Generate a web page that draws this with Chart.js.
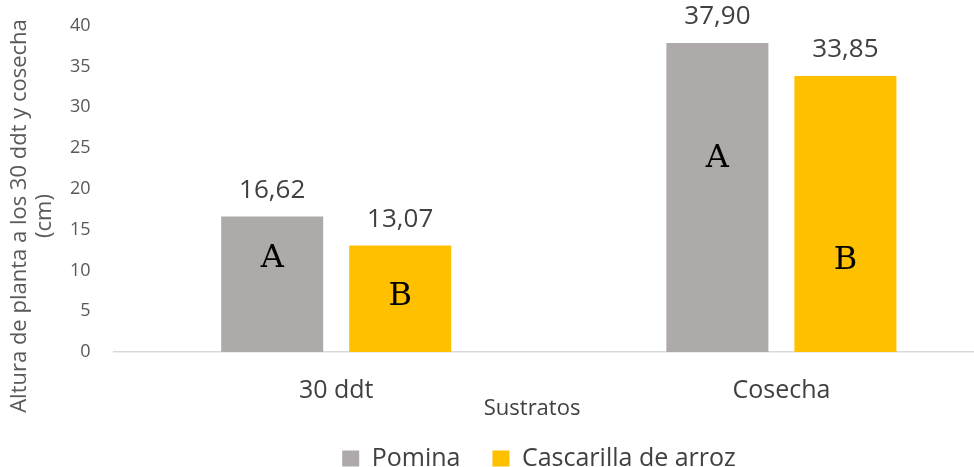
<!DOCTYPE html>
<html><head><meta charset="utf-8">
<script src="https://cdn.jsdelivr.net/npm/chart.js@4"></script>
<style>
html,body{margin:0;padding:0;background:#fff;overflow:hidden}
#wrap{position:relative;width:1004px;height:467px}
</style></head>
<body><div id="wrap"><canvas id="c"></canvas></div>
<script>
const categories = ['30 ddt', 'Cosecha'];
const seriesNames = ['Pomina', 'Cascarilla de arroz'];
const pomina = [16.62, 37.90];
const cascarilla = [13.07, 33.85];
const pominaLetters = ['A', 'A'];
const cascarillaLetters = ['B', 'B'];
const yTickValues = [0, 5, 10, 15, 20, 25, 30, 35, 40];
const yTitle = ['Altura de planta a los 30 ddt y cosecha', '(cm)'];
const xTitle = 'Sustratos';

const FONT = "'Open Sans', sans-serif";
const letterFrac = [[0.69, 0.625], [0.52, 0.33]];

const annot = {
  id: 'annot',
  afterLayout(chart) {
    if (chart.legend) {
      chart.legend.top -= 8;
      chart.legend.bottom -= 8;
      chart.legend.left = 74;
    }
  },
  afterDatasetsDraw(chart) {
    const ctx = chart.ctx;
    ctx.save();
    chart.data.datasets.forEach((ds, di) => {
      const meta = chart.getDatasetMeta(di);
      meta.data.forEach((bar, i) => {
        const v = ds.data[i];
        ctx.fillStyle = '#404040';
        ctx.font = '26px ' + FONT;
        ctx.textAlign = 'center';
        ctx.textBaseline = 'middle';
        ctx.fillText(v.toFixed(2).replace('.', ','), bar.x, bar.y - 26);
        const base = bar.base;
        const ly = base - (base - bar.y) * letterFrac[di][i];
        ctx.fillStyle = '#000';
        ctx.font = '32px "DejaVu Serif", serif';
        ctx.fillText(ds.letters[i], bar.x, ly);
      });
    });
    const a = chart.chartArea;
    ctx.fillStyle = '#404040';
    ctx.font = '22px ' + FONT;
    ctx.textAlign = 'center';
    ctx.textBaseline = 'middle';
    ctx.fillText(xTitle, a.left + (a.right - a.left) * 0.47, a.bottom + 57);
    ctx.fillStyle = '#595959';
    ctx.font = '22px ' + FONT;
    ctx.translate(0, 216);
    ctx.rotate(-Math.PI / 2);
    ctx.fillText(yTitle[0], 0, 20);
    ctx.fillText(yTitle[1], 0, 45);
    ctx.restore();
  }
};

new Chart(document.getElementById('c'), {
  type: 'bar',
  data: {
    labels: categories,
    datasets: [
      { label: seriesNames[0], data: pomina, letters: pominaLetters, backgroundColor: '#AEAAAA',
        categoryPercentage: 0.575, barPercentage: 0.797 },
      { label: seriesNames[1], data: cascarilla, letters: cascarillaLetters, backgroundColor: '#FFC000',
        categoryPercentage: 0.575, barPercentage: 0.797 }
    ]
  },
  options: {
    responsive: true,
    maintainAspectRatio: false,
    animation: false,
    layout: { padding: { top: 16, left: 55, right: 0, bottom: -22 } },
    plugins: {
      tooltip: { enabled: false },
      legend: {
        position: 'bottom',
        labels: { boxWidth: 17, boxHeight: 16, padding: 32, color: '#404040', font: { family: FONT, size: 25 } }
      }
    },
    scales: {
      x: {
        grid: { display: false },
        border: { color: '#D9D9D9', width: 1.5 },
        ticks: { color: '#404040', font: { family: FONT, size: 25 }, padding: 16 }
      },
      y: {
        min: 0, max: 40,
        afterBuildTicks(scale) { scale.ticks = yTickValues.map(v => ({ value: v })); },
        grid: { display: false },
        border: { display: false },
        ticks: { color: '#595959', font: { family: FONT, size: 18 }, padding: 15 }
      }
    }
  },
  plugins: [annot]
});
</script>
</body></html>
